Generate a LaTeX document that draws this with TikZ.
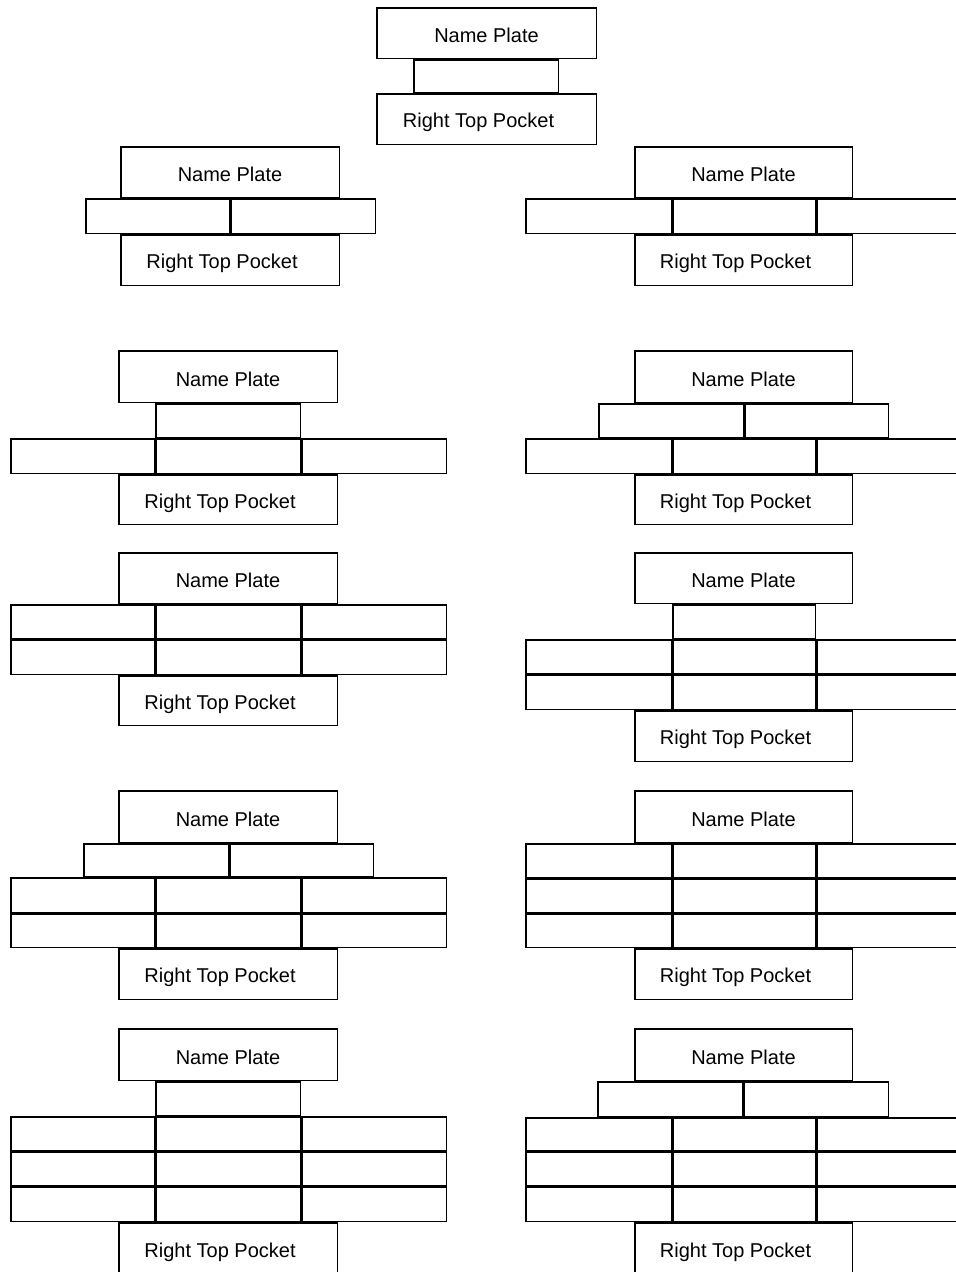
\documentclass[tikz,border=0pt]{standalone}
\usepackage{fontspec}
\setmainfont{Liberation Sans}
\tikzset{
  box/.style={draw=black, line width=1.5pt, rectangle, inner sep=0pt, outer sep=0pt,
              font=\fontsize{20}{24}\selectfont},
  np/.style={text height=19.3pt, text depth=0pt},
  rtp/.style={text height=17.3pt, text depth=0pt}
}
\newcommand\bx[7][]{%
  \pgfmathsetmacro\bxw{#5-#3-1.5}%
  \pgfmathsetmacro\bxh{#6-#4-1.5}%
  \node[box,#1,minimum width=\bxw pt,minimum height=\bxh pt,anchor=north west]
    (#2) at ({#3+0.75},{#4+0.75}) {#7};}
\newcommand\rowL[3]{\bx{#1a}{10}{#2}{155}{#3}{}\bx{#1b}{155}{#2}{301}{#3}{}\bx{#1c}{301}{#2}{447}{#3}{}}
\newcommand\rowR[3]{\bx{#1a}{525}{#2}{672}{#3}{}\bx{#1b}{672}{#2}{816}{#3}{}\bx{#1c}{816}{#2}{962}{#3}{}}
\begin{document}
\begin{tikzpicture}[x=1pt,y=-1pt]
\path[use as bounding box, fill=white] (0,0) rectangle (956,1272);

% Diagram 1 (top centre)
\bx[np]{np1}{376}{7}{597}{59}{Name Plate}
\bx{b1}{413}{59}{559}{93}{}
\bx[rtp]{rtp1}{376}{93}{597}{145}{Right Top Pocket\hspace*{16pt}}

% Diagram 2 (left)
\bx[np]{np2}{120}{146}{340}{198}{Name Plate}
\bx{b2a}{85}{198}{230}{234}{}
\bx{b2b}{230}{198}{376}{234}{}
\bx[rtp]{rtp2}{120}{234}{340}{286}{Right Top Pocket\hspace*{16pt}}

% Diagram 3 (right)
\bx[np]{np3}{634}{146}{853}{198}{Name Plate}
\rowR{r3}{198}{234}
\bx[rtp]{rtp3}{634}{234}{853}{286}{Right Top Pocket\hspace*{16pt}}

% Diagram 4 (left)
\bx[np]{np4}{118}{350}{338}{403}{Name Plate}
\bx{b4}{155}{403}{301}{438}{}
\rowL{r4}{438}{474}
\bx[rtp]{rtp4}{118}{474}{338}{525}{Right Top Pocket\hspace*{16pt}}

% Diagram 5 (right)
\bx[np]{np5}{634}{350}{853}{403}{Name Plate}
\bx{b5a}{598}{403}{744}{438}{}
\bx{b5b}{744}{403}{889}{438}{}
\rowR{r5}{438}{474}
\bx[rtp]{rtp5}{634}{474}{853}{525}{Right Top Pocket\hspace*{16pt}}

% Diagram 6 (left)
\bx[np]{np6}{118}{552}{338}{604}{Name Plate}
\rowL{r6a}{604}{639}
\rowL{r6b}{639}{675}
\bx[rtp]{rtp6}{118}{675}{338}{726}{Right Top Pocket\hspace*{16pt}}

% Diagram 7 (right)
\bx[np]{np7}{634}{552}{853}{604}{Name Plate}
\bx{b7}{672}{604}{816}{639}{}
\rowR{r7a}{639}{674}
\rowR{r7b}{674}{710}
\bx[rtp]{rtp7}{634}{710}{853}{762}{Right Top Pocket\hspace*{16pt}}

% Diagram 8 (left)
\bx[np]{np8}{118}{790}{338}{843}{Name Plate}
\bx{b8a}{83}{843}{229}{877}{}
\bx{b8b}{229}{843}{374}{877}{}
\rowL{r8a}{877}{913}
\rowL{r8b}{913}{948}
\bx[rtp]{rtp8}{118}{948}{338}{1000}{Right Top Pocket\hspace*{16pt}}

% Diagram 9 (right)
\bx[np]{np9}{634}{790}{853}{843}{Name Plate}
\rowR{r9a}{843}{878}
\rowR{r9b}{878}{913}
\rowR{r9c}{913}{948}
\bx[rtp]{rtp9}{634}{948}{853}{1000}{Right Top Pocket\hspace*{16pt}}

% Diagram 10 (left)
\bx[np]{np10}{118}{1028}{338}{1081}{Name Plate}
\bx{b10}{155}{1081}{301}{1116}{}
\rowL{r10a}{1116}{1151}
\rowL{r10b}{1151}{1186}
\rowL{r10c}{1186}{1222}
\bx[rtp]{rtp10}{118}{1222}{338}{1276}{Right Top Pocket\hspace*{16pt}}

% Diagram 11 (right)
\bx[np]{np11}{634}{1028}{853}{1081}{Name Plate}
\bx{b11a}{597}{1081}{743}{1117}{}
\bx{b11b}{743}{1081}{889}{1117}{}
\rowR{r11a}{1117}{1151}
\rowR{r11b}{1151}{1186}
\rowR{r11c}{1186}{1222}
\bx[rtp]{rtp11}{634}{1222}{853}{1276}{Right Top Pocket\hspace*{16pt}}
\end{tikzpicture}
\end{document}
